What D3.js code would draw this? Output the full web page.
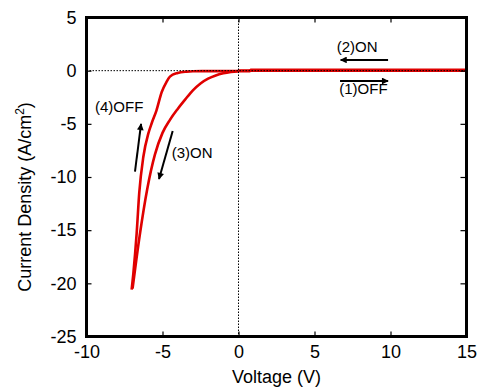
<!DOCTYPE html>
<html>
<head>
<meta charset="utf-8">
<script src="https://cdn.jsdelivr.net/npm/d3@7"></script>
<style>
  html, body { margin: 0; padding: 0; background: #fff; }
  svg { display: block; font-family: "Liberation Sans", Arial, sans-serif; }
</style>
</head>
<body>
<svg id="chart" width="477" height="388"></svg>
<script>
// ---- data ----
const xTicks = [-10, -5, 0, 5, 10, 15];
const yTicks = [-25, -20, -15, -10, -5, 0, 5];

// (1) OFF sweep: 0 -> 15 V
const sweep1V = [0, 5, 10, 15];
const sweep1J = [0, 0, 0, 0];
// (2) ON sweep: 15 -> 0 V
const sweep2V = [15, 10, 5, 0.8, 0.75, 0];
const sweep2J = [0.08, 0.08, 0.08, 0.08, -0.04, -0.04];
// (3) ON sweep: 0 -> -7 V
const sweep3V = [0, -0.5, -1.0, -1.5, -2.0, -2.5, -3.0, -3.5, -4.0, -4.5, -5.0, -5.5, -6.0, -6.5, -6.97];
const sweep3J = [-0.04, -0.12, -0.25, -0.45, -0.75, -1.2, -1.85, -2.7, -3.6, -4.6, -5.85, -7.9, -11.1, -15.5, -20.5];
// (4) OFF sweep: -7 -> 0 V
const sweep4V = [-7.03, -6.92, -6.70, -6.53, -6.26, -5.93, -5.70, -5.40, -5.05, -4.75, -4.51, -4.0, -3.41, -3.0, -2.0, -1.0, 0];
const sweep4J = [-20.6, -19.1, -15.3, -11.5, -8.1, -5.9, -4.9, -3.75, -2.0, -1.1, -0.56, -0.22, -0.09, -0.05, -0.04, -0.04, -0.04];

const annotations = [
  { text: "(2)ON",  x: 6.46,  y: 1.79 },
  { text: "(1)OFF", x: 6.63,  y: -2.19 },
  { text: "(4)OFF", x: -9.44, y: -3.91 },
  { text: "(3)ON",  x: -4.39, y: -8.24 }
];
const arrows = [
  { x1: 9.84,  y1: 1.01,  x2: 6.72,  y2: 1.01 },
  { x1: 6.68,  y1: -0.97, x2: 9.84,  y2: -0.97 },
  { x1: -6.81, y1: -9.50, x2: -6.41, y2: -5.01 },
  { x1: -4.33, y1: -5.67, x2: -5.23, y2: -10.19 }
];

// ---- layout ----
const svg = d3.select("#chart");
const L = 86.5, R = 466.5, T = 17.5, B = 336.5;
const x = d3.scaleLinear().domain([-10, 15]).range([L, R]);
const y = d3.scaleLinear().domain([-25, 5]).range([B, T]);

const red = "#e00000";

// curves
const smooth = d3.line().x(d => x(d[0])).y(d => y(d[1])).curve(d3.curveMonotoneX);
const straight = d3.line().x(d => x(d[0])).y(d => y(d[1]));
const series = [
  { pts: d3.zip(sweep1V, sweep1J), gen: straight },
  { pts: d3.zip(sweep2V, sweep2J), gen: straight },
  { pts: d3.zip(sweep3V, sweep3J).reverse(), gen: smooth },
  { pts: d3.zip(sweep4V, sweep4J), gen: smooth }
];
svg.append("g").selectAll("path").data(series).join("path")
  .attr("d", d => d.gen(d.pts))
  .attr("fill", "none")
  .attr("stroke", red)
  .attr("stroke-width", 2.6)
  .attr("stroke-linejoin", "round");

// dotted zero lines (on top)
svg.append("line")
  .attr("x1", x(-10)).attr("x2", x(15)).attr("y1", y(0)).attr("y2", y(0))
  .attr("stroke", "#000").attr("stroke-width", 1).attr("stroke-dasharray", "1.5,1.5");
svg.append("line")
  .attr("x1", x(0)).attr("x2", x(0)).attr("y1", y(5)).attr("y2", y(-25))
  .attr("stroke", "#000").attr("stroke-width", 1).attr("stroke-dasharray", "1.5,1.5");

// axes
const fmt = d => String(d);
const gB = svg.append("g").attr("transform", `translate(0,${B})`)
  .call(d3.axisBottom(x).tickValues(xTicks).tickFormat(fmt).tickSizeInner(-5).tickSizeOuter(0).tickPadding(8.5));
const gL = svg.append("g").attr("transform", `translate(${L},0)`)
  .call(d3.axisLeft(y).tickValues(yTicks).tickFormat(fmt).tickSizeInner(-5).tickSizeOuter(0).tickPadding(10));
const gT = svg.append("g").attr("transform", `translate(0,${T})`)
  .call(d3.axisTop(x).tickValues(xTicks).tickFormat("").tickSizeInner(-5).tickSizeOuter(0));
const gR = svg.append("g").attr("transform", `translate(${R},0)`)
  .call(d3.axisRight(y).tickValues(yTicks).tickFormat("").tickSizeInner(-6).tickSizeOuter(0));
[gB, gL, gT, gR].forEach(g => {
  g.select(".domain").remove();
  g.selectAll("line").attr("stroke", "#000").attr("stroke-width", 1.2);
  g.selectAll("text").attr("font-size", 18).attr("fill", "#000")
    .attr("font-family", "'Liberation Sans', Arial, sans-serif");
});

// frame
svg.append("rect")
  .attr("x", L).attr("y", T).attr("width", R - L).attr("height", B - T)
  .attr("fill", "none").attr("stroke", "#000").attr("stroke-width", 3);

// axis titles
svg.append("text")
  .attr("x", (L + R) / 2).attr("y", 383)
  .attr("text-anchor", "middle").attr("font-size", 18)
  .text("Voltage (V)");
const yt = svg.append("text")
  .attr("transform", "translate(31,197) rotate(-90)")
  .attr("text-anchor", "middle").attr("font-size", 18);
yt.append("tspan").text("Current Density (A/cm");
yt.append("tspan").attr("font-size", 12).attr("dy", -7).text("2");
yt.append("tspan").attr("dy", 7).text(")");

// annotations
svg.append("g").selectAll("text").data(annotations).join("text")
  .attr("x", d => x(d.x)).attr("y", d => y(d.y))
  .attr("font-size", 15).attr("fill", "#000")
  .text(d => d.text);

// arrows
const defs = svg.append("defs");
defs.append("marker")
  .attr("id", "ah").attr("viewBox", "0 0 10 10")
  .attr("refX", 9).attr("refY", 5)
  .attr("markerWidth", 4.5).attr("markerHeight", 3.4)
  .attr("markerUnits", "strokeWidth")
  .attr("orient", "auto")
  .append("path").attr("d", "M0,0 L10,5 L0,10 Z").attr("fill", "#000");
svg.append("g").selectAll("line").data(arrows).join("line")
  .attr("x1", d => x(d.x1)).attr("y1", d => y(d.y1))
  .attr("x2", d => x(d.x2)).attr("y2", d => y(d.y2))
  .attr("stroke", "#000").attr("stroke-width", 2)
  .attr("marker-end", "url(#ah)");
</script>
</body>
</html>
